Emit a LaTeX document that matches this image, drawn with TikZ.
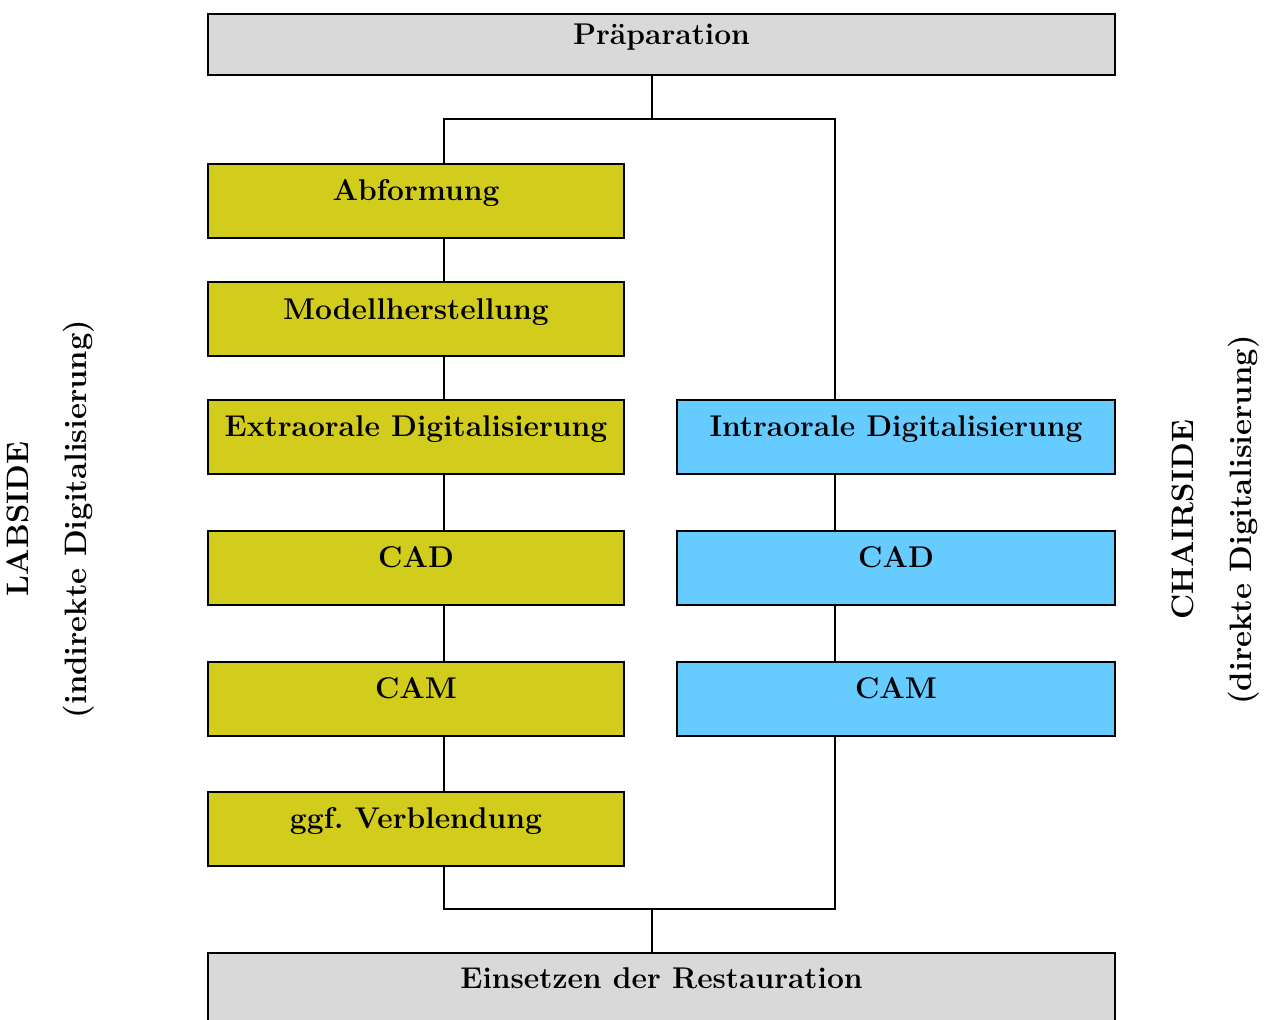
\documentclass[tikz,border=0pt]{standalone}
\usetikzlibrary{positioning}

\definecolor{labfill}{RGB}{210,204,28}
\definecolor{chairfill}{RGB}{102,204,255}
\definecolor{commonfill}{RGB}{217,217,217}
\frenchspacing

\begin{document}
\begin{tikzpicture}[x=0.5pt,y=-0.5pt,
  stepbox/.style={draw,line width=1pt,inner sep=0pt,
    minimum height=37pt,text height=0.72em,text depth=0.72em,
    font=\fontsize{15}{18}\selectfont\bfseries},
  labbox/.style={stepbox,fill=labfill,minimum width=208pt},
  chairbox/.style={stepbox,fill=chairfill,minimum width=219pt},
  wide/.style={stepbox,fill=commonfill,minimum width=453.5pt},
  side/.style={rotate=90,align=center,font=\fontsize{15.5}{29}\selectfont\bfseries},
  link/.style={line width=1pt}
]
\useasboundingbox (0,0) rectangle (1272,1019);
%
\node[wide,minimum height=30.5pt] (prep) at (661.5,44.5) {Präparation};
% labside
\node[labbox] (abf)   at (416,200.5) {Abformung};
\node[labbox] (mod)   at (416,319)   {Modellherstellung};
\node[labbox] (extra) at (416,436.5) {Extraorale Digitalisierung};
\node[labbox] (cadL)  at (416,567.5) {CAD};
\node[labbox] (camL)  at (416,698.5) {CAM};
\node[labbox] (verbl) at (416,828.5) {ggf. Verblendung};
% chairside
\node[chairbox] (intra) at (896,436.5) {Intraorale Digitalisierung};
\node[chairbox] (cadR)  at (896,567.5) {CAD};
\node[chairbox] (camR)  at (896,698.5) {CAM};
%
\node[wide,minimum height=35pt] (eins) at (661.5,988) {Einsetzen der Restauration};
%
\node[side] (lab)   at (51,519)   {LABSIDE\\(indirekte Digitalisierung)};
\node[side] (chair) at (1216,520) {CHAIRSIDE\\(direkte Digitalisierung)};
%
\coordinate (top) at (652,119);
\coordinate (topL) at (444,119);
\coordinate (topR) at (835,119);
\coordinate (bot) at (652,909);
\coordinate (botL) at (444,909);
\coordinate (botR) at (835,909);
%
\draw[link] (top |- prep.south) -- (top);
\draw[link] (abf.north -| topL) -- (topL) -- (topR) -- (intra.north -| topR);
\foreach \a/\b in {abf/mod,mod/extra,extra/cadL,cadL/camL,camL/verbl}
  \draw[link] (\a.south -| topL) -- (\b.north -| topL);
\foreach \a/\b in {intra/cadR,cadR/camR}
  \draw[link] (\a.south -| topR) -- (\b.north -| topR);
\draw[link] (verbl.south -| botL) -- (botL) -- (botR) -- (camR.south -| botR);
\draw[link] (bot) -- (bot |- eins.north);
\end{tikzpicture}
\end{document}
